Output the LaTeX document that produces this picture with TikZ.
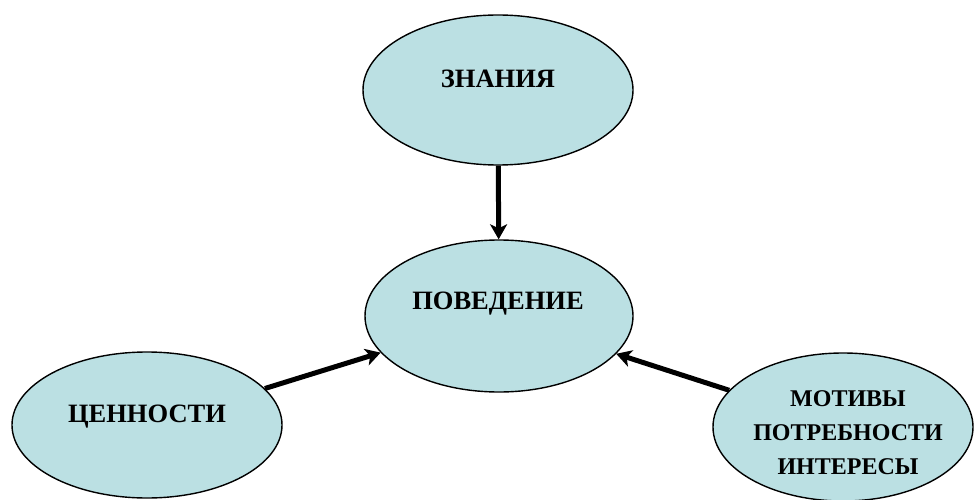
\documentclass[tikz,border=0pt]{standalone}
\usepackage{fontspec}
\setmainfont{Liberation Serif}
\usetikzlibrary{shapes.geometric,arrows.meta}
\definecolor{bubblefill}{RGB}{187,224,227}
\tikzset{
  bubble/.style={ellipse, draw=black, line width=1.4pt, fill=bubblefill, inner sep=0pt},
  lbl/.style={font=\fontsize{26.5}{34}\selectfont\bfseries, align=center, inner sep=0pt},
  smalllbl/.style={lbl, font=\fontsize{24}{34}\selectfont\bfseries},
  conn/.style={line width=5pt, -{Stealth[length=15pt,width=17pt,inset=4pt]}}
}
\begin{document}
\begin{tikzpicture}[x=1pt,y=-1pt]
\useasboundingbox (0,0) rectangle (974,500);
\node[bubble, minimum width=270pt, minimum height=150pt] (zn) at (498,90) {};
\node[bubble, minimum width=268pt, minimum height=152pt] (pov) at (499,316) {};
\node[bubble, minimum width=270pt, minimum height=146pt] (cen) at (147,425) {};
\node[bubble, minimum width=260pt, minimum height=148pt] (mot) at (843,427) {};
\node[lbl] (znt) at (498,79) {ЗНАНИЯ};
\node[lbl] (povt) at (498,304) {ПОВЕДЕНИЕ};
\node[lbl] (cent) at (147,417) {ЦЕННОСТИ};
\node[smalllbl] (mott) at (848,433) {МОТИВЫ\\ПОТРЕБНОСТИ\\ИНТЕРЕСЫ};
\draw[conn] (zn) -- (pov);
\draw[conn] (cen) -- (pov);
\draw[conn] (mot) -- (pov);
\end{tikzpicture}
\end{document}
